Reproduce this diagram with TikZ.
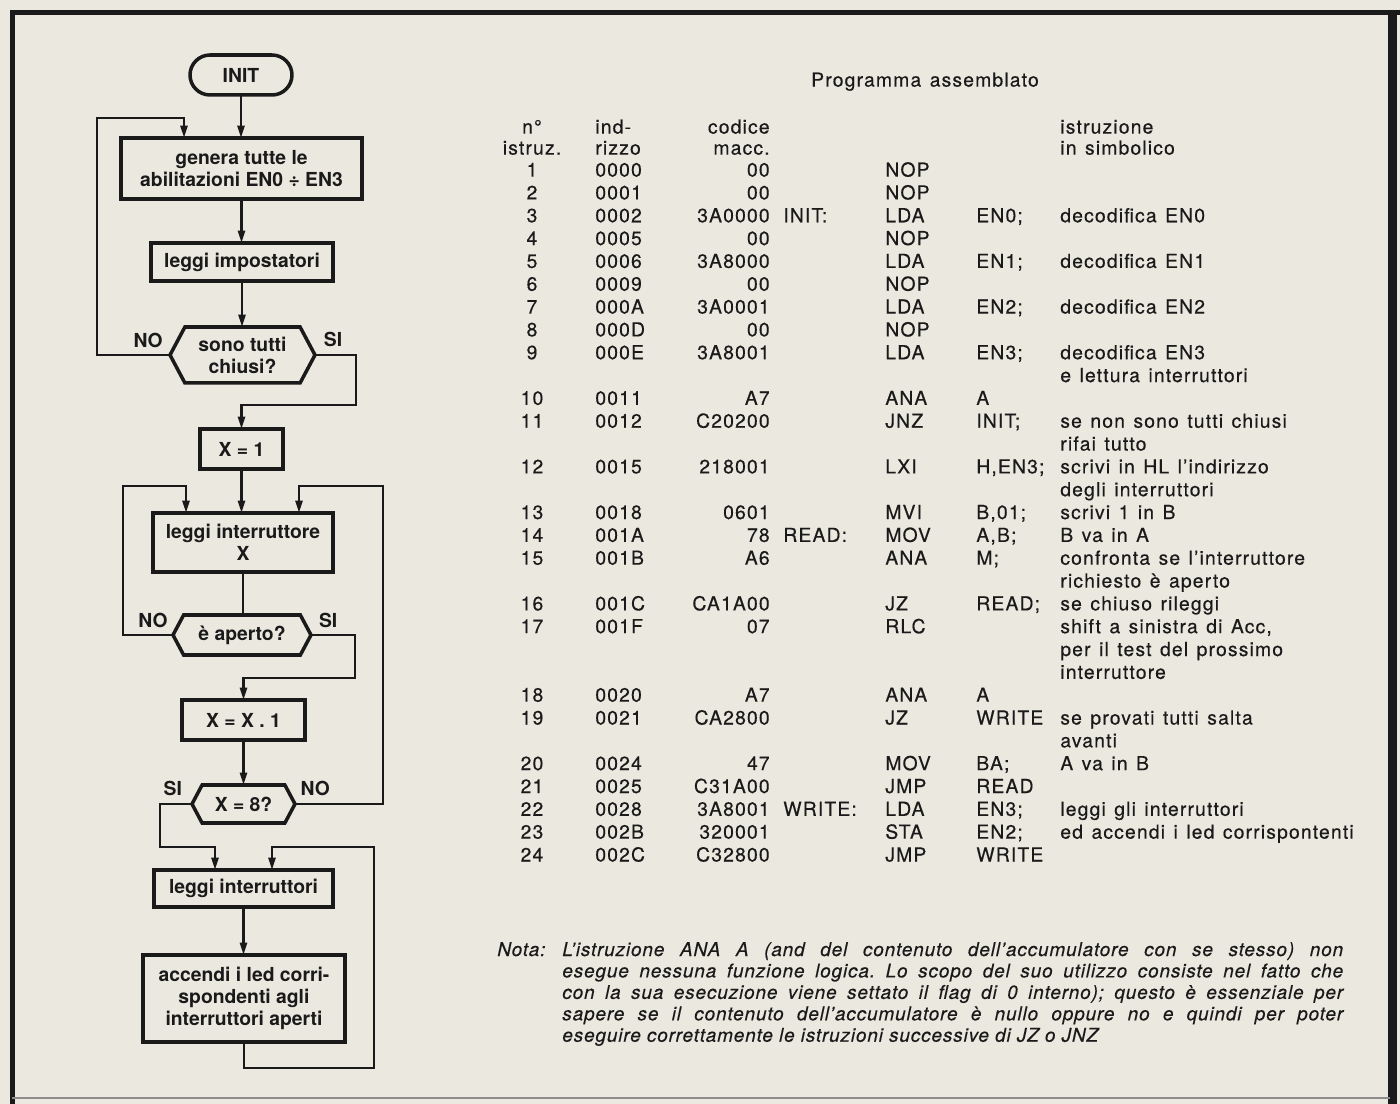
\documentclass[tikz,border=0pt]{standalone}
\usepackage{fontspec}
\setmainfont{TeX Gyre Heros}
\newfontfamily\tabfont[LetterSpace=6, WordSpace=1.3, FakeBold=0.4]{TeX Gyre Heros}
\newfontfamily\notafont[LetterSpace=4.5, FakeBold=0.3]{TeX Gyre Heros}
\usetikzlibrary{arrows.meta, shapes.symbols, calc}

\definecolor{carta}{RGB}{235,232,223}
\definecolor{inchiostro}{RGB}{26,26,26}

\begin{document}
\frenchspacing
\begin{tikzpicture}[
  x=0.02cm, y=-0.02cm,
  blocco/.style={
    draw=inchiostro, line width=2pt, fill=carta, text=inchiostro,
    inner sep=2pt, outer sep=0pt, align=center,
    font=\bfseries\fontsize{11}{12.4}\selectfont
  },
  terminale/.style={blocco, rounded corners=0.4cm},
  decisione/.style={blocco, shape=signal, signal to=east and west, signal pointer angle=124},
  linea/.style={draw=inchiostro, line width=1.5pt},
  freccia/.style={linea, -{Triangle[length=2.5mm, width=1.4mm]}},
  esito/.style={font=\bfseries\fontsize{11}{12}\selectfont, text=inchiostro, inner sep=1pt},
  cella/.style={font=\tabfont\fontsize{11}{13}\selectfont, text=inchiostro, inner sep=0pt},
  nota/.style={font=\notafont\itshape\fontsize{10.8}{12.2}\selectfont, text=inchiostro, inner sep=0pt}
]

\fill[carta] (0,0) rectangle (1400,1104);
\useasboundingbox (0,0) rectangle (1400,1104);

\draw[inchiostro, line width=0.1cm] (10,12.5) -- (1400,12.5);
\draw[inchiostro, line width=0.1cm] (12.5,10) -- (12.5,1104);
\draw[inchiostro, line width=0.18cm] (1392.5,10) -- (1392.5,1104);
\draw[black!45, line width=0.04cm] (12,1098) -- (1390,1098);

\node[terminale, minimum width=2.04cm, minimum height=0.8cm] (init) at (241,75) {INIT};
\node[blocco, minimum width=4.82cm, minimum height=1.22cm] (genera) at (241.5,168.5) {genera tutte le\\abilitazioni EN0 ÷ EN3};
\node[blocco, minimum width=3.64cm, minimum height=0.76cm] (impost) at (242,262) {leggi impostatori};
\node[decisione, minimum width=2.9cm, minimum height=1.12cm] (chiusi) at (242.5,355) {sono tutti\\chiusi?};
\node[blocco, minimum width=1.66cm, minimum height=0.8cm] (xuno) at (241.5,449) {X = 1};
\node[blocco, minimum width=3.6cm, minimum height=1.18cm] (leggix) at (243,542.5) {leggi interruttore\\X};
\node[decisione, minimum width=2.76cm, minimum height=0.8cm] (aperto) at (242,635) {è aperto?};
\node[blocco, minimum width=2.46cm, minimum height=0.8cm] (incr) at (243.5,720) {X = X . 1};
\node[decisione, minimum width=2.06cm, minimum height=0.76cm] (otto) at (243.5,804) {X = 8?};
\node[blocco, minimum width=3.58cm, minimum height=0.74cm] (leggitutti) at (243.5,888.5) {leggi interruttori};
\node[blocco, minimum width=4.04cm, minimum height=1.74cm] (accendi) at (244,998.5) {accendi i led corri-\\spondenti agli\\interruttori aperti};

\draw[freccia] (init.south) -- (init.south |- genera.north);
\draw[freccia] (genera.south) -- (genera.south |- impost.north);
\draw[freccia] (impost.south) -- (impost.south |- chiusi.north);

\draw[freccia]
  (chiusi.west) -- node[esito, pos=0.3, above=2.5pt] {NO} ++(-73,0)
  |- ([xshift=-1.15cm, yshift=0.4cm]genera.north) -- ([xshift=-1.15cm]genera.north);

\draw[freccia]
  (chiusi.east) -- node[esito, pos=0.44, above=3pt] {SI} ++(41,0)
  |- ([yshift=0.48cm]xuno.north) -- (xuno.north);

\draw[freccia] (xuno.south) -- (xuno.south |- leggix.north);
\draw[linea] (leggix.south) -- (leggix.south |- aperto.north);

\draw[freccia]
  (aperto.west) -- node[esito, pos=0.4, above=2.5pt] {NO} ++(-50,0)
  |- ([xshift=-1.14cm, yshift=0.54cm]leggix.north) -- ([xshift=-1.14cm]leggix.north);

\draw[freccia]
  (aperto.east) -- node[esito, pos=0.39, above=2.5pt] {SI} ++(44,0)
  |- ([yshift=0.44cm]incr.north) -- (incr.north);

\draw[freccia] (incr.south) -- (incr.south |- otto.north);

\draw[freccia]
  (otto.east) -- node[esito, pos=0.23, above=3pt] {NO} ++(88,0)
  |- ([xshift=1.12cm, yshift=0.54cm]leggix.north) -- ([xshift=1.12cm]leggix.north);

\draw[freccia]
  (otto.west) -- node[esito, pos=0.6, above=3pt] {SI} ++(-32,0)
  |- ([xshift=-0.57cm, yshift=0.46cm]leggitutti.north) -- ([xshift=-0.57cm]leggitutti.north);

\draw[freccia] (leggitutti.south) -- (leggitutti.south |- accendi.north);

\draw[freccia]
  (accendi.south) -- ++(0,26) -| ([xshift=2.61cm, yshift=0.46cm]leggitutti.north)
  -- ([xshift=0.57cm, yshift=0.46cm]leggitutti.north) -- ([xshift=0.57cm]leggitutti.north);

\node[cella, anchor=base] (titolo) at (925,86.6) {Programma assemblato};

\foreach \x/\anc/\righe/\rigb in {532/base/n°/istruz., 595/base west/ind-/rizzo,
    770/base east/codice/macc., 1060/base west/istruzione/in simbolico} {
  \node[cella, anchor=\anc] (testa-a-\x) at (\x,133.6) {\righe};
  \node[cella, anchor=\anc] (testa-b-\x) at (\x,154.6) {\rigb};
}

\foreach \k/\num/\ind/\cod/\etic/\mnem/\oper in {
    0/1/0000/00//NOP/, 1/2/0001/00//NOP/,
    2/3/0002/3A0000/INIT:/LDA/EN0;, 3/4/0005/00//NOP/,
    4/5/0006/3A8000//LDA/EN1;, 5/6/0009/00//NOP/,
    6/7/000A/3A0001//LDA/EN2;, 7/8/000D/00//NOP/,
    8/9/000E/3A8001//LDA/EN3;, 10/10/0011/A7//ANA/A,
    11/11/0012/C20200//JNZ/INIT;, 13/12/0015/218001//LXI/{H,EN3;},
    15/13/0018/0601//MVI/{B,01;}, 16/14/001A/78/READ:/MOV/{A,B;},
    17/15/001B/A6//ANA/M;, 19/16/001C/CA1A00//JZ/READ;,
    20/17/001F/07//RLC/, 23/18/0020/A7//ANA/A,
    24/19/0021/CA2800//JZ/WRITE, 26/20/0024/47//MOV/BA;,
    27/21/0025/C31A00//JMP/READ, 28/22/0028/3A8001/WRITE:/LDA/EN3;,
    29/23/002B/320001//STA/EN2;, 30/24/002C/C32800//JMP/WRITE} {
  \node[cella, anchor=base] (num-\k) at (532,{176.6+22.83*\k}) {\num};
  \node[cella, anchor=base west] (ind-\k) at (595,{176.6+22.83*\k}) {\ind};
  \node[cella, anchor=base east] (cod-\k) at (770,{176.6+22.83*\k}) {\cod};
  \node[cella, anchor=base west] (etic-\k) at (783,{176.6+22.83*\k}) {\etic};
  \node[cella, anchor=base west] (mnem-\k) at (885,{176.6+22.83*\k}) {\mnem};
  \node[cella, anchor=base west] (oper-\k) at (976,{176.6+22.83*\k}) {\oper};
}

\foreach \k/\testo in {2/decodifica EN0, 4/decodifica EN1, 6/decodifica EN2,
    8/decodifica EN3, 9/e lettura interruttori, 11/se non sono tutti chiusi,
    12/rifai tutto, 13/scrivi in HL l’indirizzo, 14/degli interruttori,
    15/scrivi 1 in B, 16/B va in A, 17/confronta se l’interruttore,
    18/richiesto è aperto, 19/se chiuso rileggi, 20/{shift a sinistra di Acc,},
    21/per il test del prossimo, 22/interruttore, 24/se provati tutti salta,
    25/avanti, 26/A va in B, 28/leggi gli interruttori,
    29/ed accendi i led corrispontenti} {
  \node[cella, anchor=base west] (comm-\k) at (1060,{176.6+22.83*\k}) {\testo};
}

\node[nota, anchor=base west] (notaTitolo) at (497,956) {Nota:};
\node[nota, anchor=base west, text width=15.62cm, align=justify] (notaTesto) at (562,956)
  {L’istruzione ANA A (and del contenuto dell’accumulatore con se stesso) non\linebreak
   esegue nessuna funzione logica. Lo scopo del suo utilizzo consiste nel fatto che\linebreak
   con la sua esecuzione viene settato il flag di 0 interno); questo è essenziale per\linebreak
   sapere se il contenuto dell’accumulatore è nullo oppure no e quindi per poter\linebreak
   eseguire correttamente le istruzioni successive di JZ o JNZ};
\end{tikzpicture}
\end{document}
